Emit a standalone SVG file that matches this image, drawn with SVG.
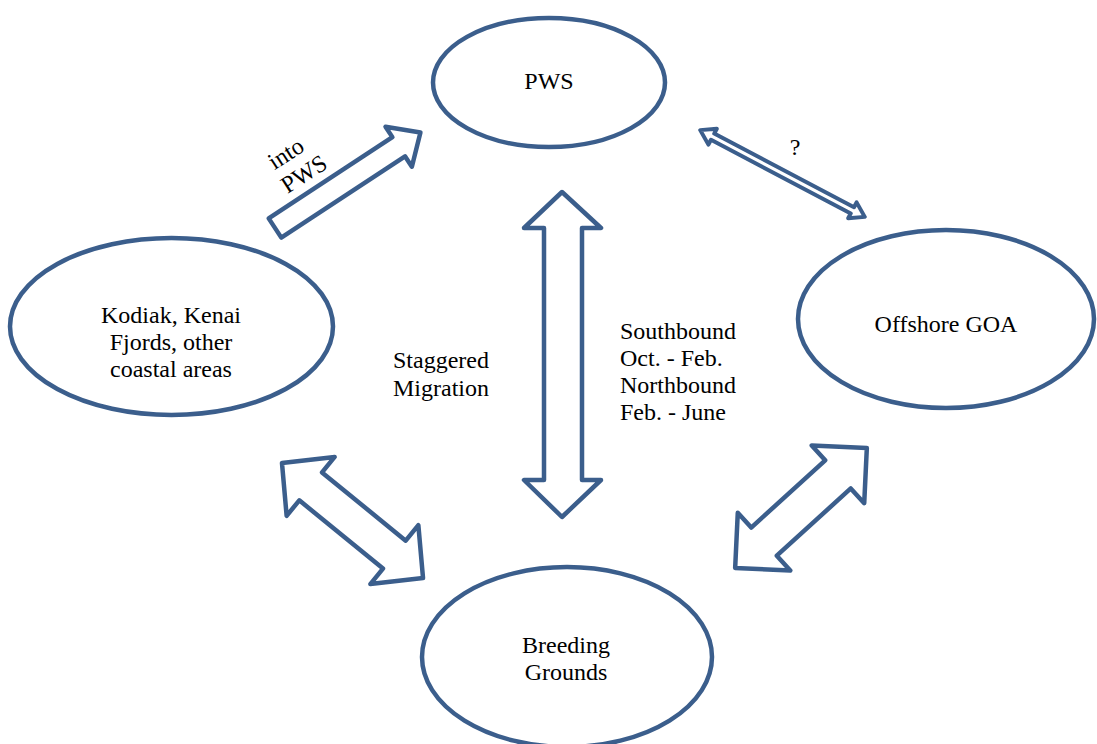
<svg xmlns="http://www.w3.org/2000/svg" width="1097" height="744" viewBox="0 0 1097 744">
  <style>
    .node { fill: #ffffff; stroke: #3b5e8c; stroke-width: 4.5; }
    .arrow { fill: #ffffff; stroke: #3b5e8c; stroke-width: 4.5; stroke-linejoin: round; }
    .thin { fill: #ffffff; stroke: #3b5e8c; stroke-width: 4; stroke-linejoin: round; }
    text { font-family: "Liberation Serif", "Times New Roman", serif; font-size: 24px; fill: #000000; }
    .c { text-anchor: middle; }
  </style>
  <rect width="1097" height="744" fill="#ffffff"/>
  <g id="connectors">
    <polygon class="arrow" points="0,-11.5 148,-11.5 148,-24 174,0 148,24 148,11.5 0,11.5" transform="translate(275,228) rotate(-33.3)"/>
    <polygon class="thin" points="-93,0 -79,-9 -79,-3.5 79,-3.5 79,-9 93,0 79,9 79,3.5 -79,3.5 -79,9" transform="translate(782.5,173.5) rotate(27.8)"/>
    <polygon class="arrow" points="562,192 601,228 582,228 582,480 601,480 562,517 524,480 544,480 544,228 524,228"/>
    <polygon class="arrow" points="-91,0 -54,-38 -54,-18 54,-18 54,-38 91,0 54,38 54,18 -54,18 -54,38" transform="translate(352.5,520.5) rotate(39.2)"/>
    <polygon class="arrow" points="-89,0 -50,-39 -50,-19 50,-19 50,-39 89,0 50,39 50,19 -50,19 -50,39" transform="translate(801,508) rotate(-42.3)"/>
    <g transform="translate(299,170) rotate(-33)">
      <text class="c" x="-2" y="-13">into</text>
      <text class="c" x="2" y="14">PWS</text>
    </g>
    <text class="c" x="795" y="155">?</text>
    <text x="393" y="368">Staggered</text>
    <text x="393" y="396">Migration</text>
    <text x="620" y="339">Southbound</text>
    <text x="620" y="366">Oct. - Feb.</text>
    <text x="620" y="393">Northbound</text>
    <text x="620" y="420">Feb. - June</text>
  </g>
  <g id="pws">
    <ellipse class="node" cx="549" cy="82.5" rx="116" ry="64.5"/>
    <text class="c" x="549" y="89">PWS</text>
  </g>
  <g id="kodiak">
    <ellipse class="node" cx="171.5" cy="326.5" rx="161.5" ry="88.5"/>
    <text class="c" x="171" y="323">Kodiak, Kenai</text>
    <text class="c" x="171" y="350">Fjords, other</text>
    <text class="c" x="171" y="377">coastal areas</text>
  </g>
  <g id="offshore">
    <ellipse class="node" cx="946" cy="319" rx="148" ry="89"/>
    <text class="c" x="946" y="332">Offshore GOA</text>
  </g>
  <g id="breeding">
    <ellipse class="node" cx="567" cy="657" rx="145" ry="90"/>
    <text class="c" x="566" y="653">Breeding</text>
    <text class="c" x="566" y="680">Grounds</text>
  </g>
</svg>
